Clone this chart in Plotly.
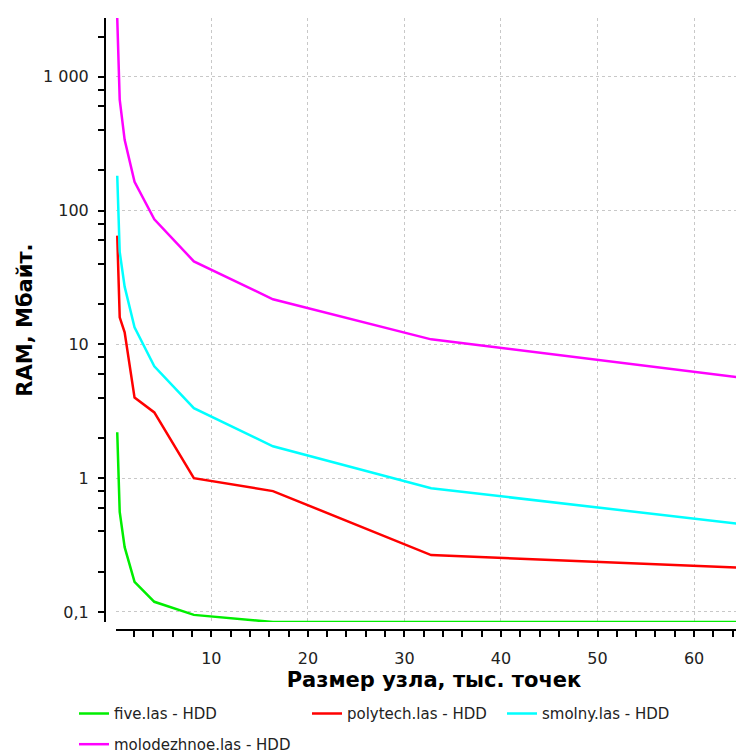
import numpy as np
import plotly.graph_objects as go

# node size, thousand points
node_size = [0.256, 0.512, 1.024, 2.048, 4.096, 8.192, 16.384, 32.768, 65.536]

# RAM, MB
ram_five = [2.2, 0.56, 0.305, 0.168, 0.119, 0.095, 0.084, 0.084, 0.084]
ram_polytech = [65, 15.9, 12.3, 4.0, 3.1, 1.0, 0.80, 0.266, 0.213]
ram_smolny = [182, 49, 27, 13.4, 6.85, 3.33, 1.73, 0.84, 0.448]
ram_molodezhnoe = [2750, 674, 338, 164, 86, 41.7, 21.7, 10.9, 5.57]

series = [
    ("five.las - HDD", ram_five, "#00ee00"),
    ("polytech.las - HDD", ram_polytech, "#ff0000"),
    ("smolny.las - HDD", ram_smolny, "#00ffff"),
    ("molodezhnoe.las - HDD", ram_molodezhnoe, "#ff00ff"),
]

y_tickvals = [0.1, 1, 10, 100, 1000]
y_ticktext = ["0,1", "1", "10", "100", "1 000"]
y_minor = [m * 10.0 ** e for e in range(-1, 4) for m in (2, 4, 6, 8)]

FONT = "DejaVu Sans"
GRID = "#c8c8c8"

# legend slots (paper coords): three in the first row, one in the second
LEG_POS = [(-0.0479, -0.137), (0.3122, -0.137), (0.6136, -0.137), (-0.0479, -0.187)]

fig = go.Figure()
legends = {}
for i, (name, vals, color) in enumerate(series):
    key = "legend" if i == 0 else f"legend{i + 1}"
    fig.add_trace(go.Scatter(x=node_size, y=vals, name=name, mode="lines",
                             line=dict(color=color, width=2.5), legend=key))
    lx, ly = LEG_POS[i]
    legends[key] = dict(orientation="h", x=lx, xanchor="left", y=ly, yanchor="middle",
                        bgcolor="rgba(0,0,0,0)", font=dict(size=15, family=FONT, color="#222"))

# page body adds an 8px offset, margins compensate for it
fig.update_layout(
    width=744, height=754,
    margin=dict(l=97, r=0, t=10, b=132),
    paper_bgcolor="white", plot_bgcolor="white",
    font=dict(family=FONT, size=15, color="#222"),
    showlegend=True,
    **legends,
)

fig.update_xaxes(
    range=[0.128, 66.0], domain=[0.017, 1], anchor="free", position=0,
    showline=True, linecolor="black", linewidth=2,
    ticks="outside", ticklen=6, tickwidth=1.5, tickcolor="black",
    tickvals=[10, 20, 30, 40, 50, 60], ticklabelstandoff=8,
    minor=dict(dtick=2, tick0=0, ticks="outside", ticklen=6, tickwidth=1.5,
               tickcolor="black", showgrid=False),
    showgrid=True, gridcolor=GRID, griddash="dot", gridwidth=1, zeroline=False,
    tickfont=dict(size=16, family=FONT, color="#222"),
    title=dict(text="<b>Размер узла, тыс. точек</b>", font=dict(size=21, family=FONT, color="black"),
               standoff=0),
    automargin=False,
)

fig.update_yaxes(
    type="log", range=[np.log10(0.084), np.log10(2750)], domain=[0.013, 1],
    anchor="free", position=0,
    showline=True, linecolor="black", linewidth=2,
    ticks="outside", ticklen=6, tickwidth=1.5, tickcolor="black",
    tickvals=y_tickvals, ticktext=y_ticktext, ticklabelstandoff=6,
    minor=dict(tickvals=y_minor, ticks="outside", ticklen=6, tickwidth=1.5,
               tickcolor="black", showgrid=False),
    showgrid=True, gridcolor=GRID, griddash="dot", gridwidth=1, zeroline=False,
    tickfont=dict(size=16, family=FONT, color="#222"),
    title=dict(text="<b>RAM, Мбайт.</b>", font=dict(size=21, family=FONT, color="black"),
               standoff=4),
    automargin=False,
)

fig.write_html("out.html")
